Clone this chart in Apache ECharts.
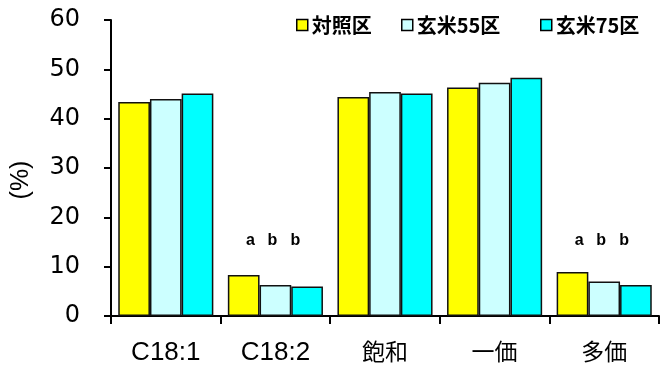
<!DOCTYPE html>
<html>
<head>
<meta charset="utf-8">
<script src="https://cdn.jsdelivr.net/npm/echarts@6/dist/echarts.min.js"></script>
<style>
  html, body { margin: 0; padding: 0; background: #fff; }
  #chart { width: 668px; height: 368px; }
</style>
</head>
<body>
<div id="chart"></div>
<script>
// カテゴリ
const categories = ['C18:1', 'C18:2', '飽和', '一価', '多価']
// 各区の値 (%)
const ctrl = [43.4, 8.3, 44.4, 46.3, 8.9]
const genmai55 = [44.0, 6.3, 45.4, 47.3, 7.0]
const genmai75 = [45.1, 6.0, 45.1, 48.3, 6.3]
// 有意差の文字
const sigCtrl = ['', 'a', '', '', 'a']
const sig55 = ['', 'b', '', '', 'b']
const sig75 = ['', 'b', '', '', 'b']
const yTicks = [0, 10, 20, 30, 40, 50, 60]

const sigLevel = 15.2
const font = "'Liberation Sans', Arial, 'Noto Sans CJK JP', sans-serif"
const digitFont = "'DejaVu Sans', 'Liberation Sans', sans-serif"
const cjkFont = "'Noto Sans CJK JP', 'Liberation Sans', sans-serif"

const chart = echarts.init(document.getElementById('chart'))

const barSeries = (name, data, color) => ({
  name: name,
  type: 'bar',
  barWidth: 31.7,
  barGap: '0%',
  itemStyle: {
    color: color,
    borderColor: '#111',
    borderWidth: 1.5
  },
  emphasis: { disabled: true },
  data: data
})

const sigSeries = (letters, dx) => ({
  type: 'scatter',
  symbolSize: 0,
  silent: true,
  itemStyle: { opacity: 1 },
  data: letters.map((t, i) => [i, sigLevel, t]),
  label: {
    show: true,
    position: 'inside',
    offset: [dx, 0],
    formatter: p => p.data[2],
    color: '#000',
    opacity: 1,
    fontFamily: font,
    fontWeight: 'bold',
    fontSize: 16
  }
})

const legendAt = (name, left) => ({
  data: [name],
  left: left,
  top: 10,
  icon: 'rect',
  itemWidth: 11,
  itemHeight: 11,
  itemGap: 0,
  selectedMode: false,
  itemStyle: { borderColor: '#000', borderWidth: 1.5 },
  textStyle: {
    color: '#000',
    fontFamily: cjkFont,
    fontWeight: 'bold',
    fontSize: 20,
    padding: [0, 0, 0, -1]
  }
})

const option = {
  animation: false,
  backgroundColor: '#fff',
  legend: [
    legendAt('対照区', 291),
    legendAt('玄米55区', 396),
    legendAt('玄米75区', 535)
  ],
  grid: {
    left: 111,
    right: 9,
    top: 20,
    bottom: 52,
    containLabel: false,
    outerBoundsMode: 'none'
  },
  xAxis: {
    type: 'category',
    data: categories,
    axisLine: { lineStyle: { color: '#000', width: 2 } },
    axisTick: { show: true, length: 8, lineStyle: { color: '#000', width: 2 } },
    axisLabel: {
      margin: 24,
      formatter: v => (/[A-Za-z0-9]/.test(v) ? '{lat|' + v + '}' : '{cjk|' + v + '}'),
      rich: {
        lat: { color: '#000', fontFamily: font, fontSize: 26 },
        cjk: { color: '#000', fontFamily: cjkFont, fontSize: 23 }
      }
    }
  },
  yAxis: {
    type: 'value',
    min: yTicks[0],
    max: yTicks[yTicks.length - 1],
    interval: 10,
    name: '(%)',
    nameLocation: 'middle',
    nameRotate: 90,
    nameGap: 77,
    nameTextStyle: {
      color: '#000',
      fontFamily: font,
      fontSize: 25,
      padding: [0, 24, 0, 0]
    },
    splitLine: { show: false },
    axisLine: { show: true, lineStyle: { color: '#000', width: 2 } },
    axisTick: { show: true, length: 7, lineStyle: { color: '#000', width: 2 } },
    axisLabel: {
      color: '#000',
      fontFamily: digitFont,
      fontSize: 24,
      margin: 31
    }
  },
  series: [
    barSeries('対照区', ctrl, '#ffff00'),
    barSeries('玄米55区', genmai55, '#ccffff'),
    barSeries('玄米75区', genmai75, '#00ffff'),
    sigSeries(sigCtrl, -25),
    sigSeries(sig55, -3),
    sigSeries(sig75, 20)
  ]
}

chart.setOption(option)
</script>
</body>
</html>
